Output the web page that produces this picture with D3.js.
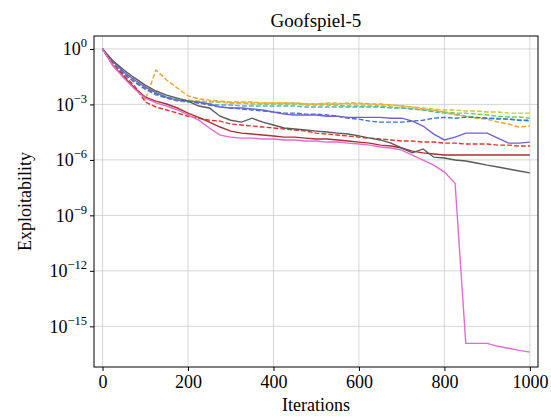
<!DOCTYPE html>
<html>
<head>
<meta charset="utf-8">
<script src="https://cdn.jsdelivr.net/npm/d3@7"></script>
<style>
    body { margin: 0; background: #fff; }
    svg text { font-family: "Liberation Serif", "DejaVu Serif", serif; fill: #000; }
</style>
</head>
<body>
<div id="chart"></div>
<script>
// iterations every 25 steps, 0..1000
var iterations = d3.range(0, 1001, 25);

var purpleSolid = [1, 2e-1, 5.6e-2, 2.1e-2, 8.7e-3, 4.2e-3, 2.5e-3, 1.7e-3, 1.5e-3, 1.35e-3, 1.05e-3, 7.2e-4, 6.4e-4, 6.4e-4, 5.7e-4, 5e-4, 3.9e-4, 3e-4, 2.7e-4, 2.7e-4, 2.7e-4, 2.3e-4, 2.3e-4, 2e-4, 2e-4, 2e-4, 2e-4, 1.8e-4, 1.8e-4, 1.25e-4, 6.8e-5, 2.5e-5, 1.2e-5, 1.7e-5, 2.8e-5, 2.8e-5, 2.8e-5, 1.5e-5, 8.1e-6, 8.1e-6, 9.2e-6];
var blueDashed = [1, 1.5e-1, 4.4e-2, 1.6e-2, 6.8e-3, 3.7e-3, 2.2e-3, 1.7e-3, 1.5e-3, 1.2e-3, 9.3e-4, 7.2e-4, 6.4e-4, 5.7e-4, 5e-4, 4.4e-4, 3.9e-4, 3.4e-4, 3.4e-4, 3e-4, 3e-4, 2.7e-4, 2.3e-4, 1.8e-4, 1.6e-4, 1.25e-4, 1.1e-4, 1.1e-4, 1.1e-4, 1.25e-4, 1.4e-4, 1.8e-4, 2e-4, 1.8e-4, 2e-4, 2e-4, 1.8e-4, 1.6e-4, 1.6e-4, 1.4e-4, 1.4e-4];
var greenDashed = [1, 1.75e-1, 5.6e-2, 2.1e-2, 8.7e-3, 4.2e-3, 2.5e-3, 2e-3, 1.7e-3, 1.5e-3, 1.35e-3, 1.35e-3, 1.2e-3, 1.2e-3, 1.05e-3, 1.05e-3, 1.05e-3, 1.05e-3, 1.05e-3, 9.3e-4, 9.3e-4, 9.3e-4, 9.3e-4, 8.2e-4, 8.2e-4, 8.2e-4, 8.2e-4, 7.2e-4, 6.4e-4, 5.7e-4, 5e-4, 4.4e-4, 3.9e-4, 3.4e-4, 3.4e-4, 3e-4, 2.7e-4, 2.3e-4, 2.1e-4, 2.1e-4, 1.8e-4];
var oliveDashed = [1, 1.75e-1, 5e-2, 1.85e-2, 7.7e-3, 3.7e-3, 2.2e-3, 1.7e-3, 1.7e-3, 1.5e-3, 1.5e-3, 1.35e-3, 1.2e-3, 1.2e-3, 1.2e-3, 1.2e-3, 1.2e-3, 1.2e-3, 1.2e-3, 1.05e-3, 1.05e-3, 1.2e-3, 1.2e-3, 1.05e-3, 1.05e-3, 1.05e-3, 9.3e-4, 9.3e-4, 8.2e-4, 7.2e-4, 6.4e-4, 5.7e-4, 5e-4, 5e-4, 4.4e-4, 4.4e-4, 3.9e-4, 3.9e-4, 3.4e-4, 3.4e-4, 3.4e-4];
var tealDashed = [1, 1.5e-1, 4.4e-2, 1.6e-2, 6.8e-3, 3.2e-3, 2.2e-3, 1.5e-3, 1.35e-3, 1.2e-3, 1.05e-3, 9.3e-4, 9.3e-4, 8.2e-4, 8.2e-4, 8.2e-4, 8.2e-4, 8.2e-4, 8.2e-4, 7.2e-4, 7.2e-4, 7.2e-4, 7.2e-4, 7.2e-4, 7.2e-4, 7.2e-4, 7.2e-4, 6.4e-4, 6.4e-4, 5.7e-4, 5e-4, 3.9e-4, 3.4e-4, 3e-4, 2.3e-4, 2e-4, 1.8e-4, 1.8e-4, 1.6e-4, 1.4e-4, 1.25e-4];
var orangeDashed = [1, 1.75e-1, 3.5e-2, 7.7e-3, 1.7e-3, 7.2e-2, 2.1e-2, 7.7e-3, 2.9e-3, 2e-3, 1.7e-3, 1.5e-3, 1.35e-3, 1.35e-3, 1.35e-3, 1.2e-3, 1.2e-3, 1.2e-3, 1.2e-3, 1.05e-3, 1.05e-3, 1.05e-3, 1.05e-3, 1.2e-3, 1.2e-3, 1.05e-3, 1.05e-3, 9.3e-4, 8.2e-4, 7.2e-4, 5.7e-4, 5e-4, 3.9e-4, 2.7e-4, 2.3e-4, 1.8e-4, 1.6e-4, 1.1e-4, 8.7e-5, 6e-5, 6.8e-5];
var redDashed = [1, 1.35e-1, 3.5e-2, 1e-2, 1.35e-3, 7.2e-4, 5e-4, 3.4e-4, 2.3e-4, 1.8e-4, 1.4e-4, 1.25e-4, 8.7e-5, 7.7e-5, 6.8e-5, 6e-5, 5.3e-5, 4.7e-5, 4.1e-5, 3.6e-5, 2.8e-5, 2.5e-5, 2.2e-5, 1.95e-5, 1.7e-5, 1.5e-5, 1.35e-5, 1.2e-5, 1.05e-5, 1.05e-5, 9.2e-6, 9.2e-6, 8.1e-6, 8.1e-6, 7.2e-6, 7.2e-6, 7.2e-6, 6.3e-6, 6.3e-6, 5.6e-6, 5.6e-6];
var brownSolid = [1, 1.2e-1, 3e-2, 7.7e-3, 2.5e-3, 1.5e-3, 1.05e-3, 6.4e-4, 3.4e-4, 2e-4, 1.1e-4, 6e-5, 3.6e-5, 2.8e-5, 2.5e-5, 2.2e-5, 1.95e-5, 1.7e-5, 1.7e-5, 1.5e-5, 1.35e-5, 1.35e-5, 1.2e-5, 1.05e-5, 9.2e-6, 8.1e-6, 6.3e-6, 5.6e-6, 4.4e-6, 3e-6, 2.4e-6, 2.1e-6, 1.85e-6, 1.85e-6, 1.85e-6, 1.85e-6, 1.85e-6, 1.85e-6, 1.85e-6, 1.85e-6, 1.85e-6];
var pinkSolid = [1, 1.2e-1, 2.7e-2, 6.8e-3, 2.2e-3, 1.2e-3, 8.2e-4, 5e-4, 2.7e-4, 1.4e-4, 5.3e-5, 2.2e-5, 1.7e-5, 1.5e-5, 1.5e-5, 1.35e-5, 1.35e-5, 1.2e-5, 1.2e-5, 1.05e-5, 1.05e-5, 9.2e-6, 9.2e-6, 8.1e-6, 7.2e-6, 6.3e-6, 5e-6, 4.4e-6, 3.4e-6, 1.8e-6, 9.8e-7, 5.2e-7, 2.2e-7, 5.5e-8, 1.2e-16, 1.2e-16, 1.2e-16, 8.3e-17, 6.5e-17, 5e-17, 4e-17];
var graySolid = [1, 2.2e-1, 7.2e-2, 2.7e-2, 1.1e-2, 5.3e-3, 3.2e-3, 2.2e-3, 1.5e-3, 8.2e-4, 6.4e-4, 2.3e-4, 1.4e-4, 1.1e-4, 1.8e-4, 1.1e-4, 7.7e-5, 5.3e-5, 4.7e-5, 4.1e-5, 3.6e-5, 3.2e-5, 2.8e-5, 2.5e-5, 2e-5, 1.5e-5, 1.2e-5, 8.1e-6, 4.4e-6, 2.4e-6, 3.9e-6, 1.4e-6, 1.26e-6, 9.8e-7, 8.7e-7, 6.8e-7, 5.2e-7, 4.1e-7, 3.2e-7, 2.5e-7, 2e-7];

var xTicks = [0, 200, 400, 600, 800, 1000];
var yTicks = [1, 1e-3, 1e-6, 1e-9, 1e-12, 1e-15];

var series = [
    { values: greenDashed, color: '#72cf55', dash: true },
    { values: oliveDashed, color: '#cdc43c', dash: true },
    { values: tealDashed, color: '#4fb5b5', dash: true },
    { values: orangeDashed, color: '#f6a425', dash: true },
    { values: blueDashed, color: '#3f6fd3', dash: true },
    { values: purpleSolid, color: '#7060d8', dash: false },
    { values: redDashed, color: '#e0352d', dash: true },
    { values: brownSolid, color: '#a83232', dash: false },
    { values: graySolid, color: '#5a5a5a', dash: false },
    { values: pinkSolid, color: '#e26ad6', dash: false }
];

var width = 551, height = 418;
var margin = { top: 36, right: 13, bottom: 51, left: 94 };
var innerW = width - margin.left - margin.right;
var innerH = height - margin.top - margin.bottom;

var svg = d3.select('#chart').append('svg')
    .attr('width', width)
    .attr('height', height);

var xScale = d3.scaleLinear().domain([-20, 1019]).range([0, innerW]);
var yScale = d3.scaleLog().domain([Math.pow(10, -17.2), Math.pow(10, 0.7)]).range([innerH, 0]);

var g = svg.append('g').attr('transform', `translate(${margin.left}, ${margin.top})`);

// grid
g.append('g').attr('class', 'grid')
    .selectAll('line.gx').data(xTicks).enter().append('line')
    .attr('x1', function (d) { return xScale(d); })
    .attr('x2', function (d) { return xScale(d); })
    .attr('y1', 0).attr('y2', innerH)
    .attr('stroke', '#cccccc').attr('stroke-width', 0.8);
g.select('.grid')
    .selectAll('line.gy').data(yTicks).enter().append('line')
    .attr('x1', 0).attr('x2', innerW)
    .attr('y1', function (d) { return yScale(d); })
    .attr('y2', function (d) { return yScale(d); })
    .attr('stroke', '#cccccc').attr('stroke-width', 0.8);

svg.append('defs').append('clipPath').attr('id', 'plotclip')
    .append('rect').attr('width', innerW).attr('height', innerH);

var line = d3.line()
    .x(function (d, i) { return xScale(iterations[i]); })
    .y(function (d) { return yScale(d); });

g.append('g').attr('clip-path', 'url(#plotclip)')
    .selectAll('path').data(series).enter().append('path')
    .attr('d', function (d) { return line(d.values); })
    .attr('fill', 'none')
    .attr('stroke', function (d) { return d.color; })
    .attr('stroke-width', 1.4)
    .attr('stroke-dasharray', function (d) { return d.dash ? '4.8,2.1' : null; });

// axes
var xAxis = d3.axisBottom(xScale).tickValues(xTicks).tickSize(4).tickPadding(4).tickFormat(d3.format('d'));
var xg = g.append('g').attr('transform', `translate(0, ${innerH})`).call(xAxis);
xg.select('.domain').remove();
xg.selectAll('text').style('font-size', '18px').style('font-family', '"Liberation Serif", serif').attr('fill', '#000');

var yAxis = d3.axisLeft(yScale).tickValues(yTicks).tickSize(4).tickFormat('');
var yg = g.append('g').call(yAxis);
yg.select('.domain').remove();

yg.selectAll('.tick').each(function (d) {
    var exp = Math.round(Math.log10(d));
    var t = d3.select(this).append('text')
        .attr('x', -7).attr('y', 6)
        .attr('text-anchor', 'end')
        .style('font-size', '18px');
    t.append('tspan').text('10');
    t.append('tspan').attr('dy', -8).style('font-size', '12.5px')
        .text(exp === 0 ? '0' : '\u2212' + Math.abs(exp));
});

// box
g.append('rect').attr('width', innerW).attr('height', innerH)
    .attr('fill', 'none').attr('stroke', '#000').attr('stroke-width', 1);

// labels
svg.append('text').attr('x', margin.left + innerW / 2).attr('y', 27)
    .attr('text-anchor', 'middle').style('font-size', '19px').text('Goofspiel-5');
svg.append('text').attr('x', margin.left + innerW / 2).attr('y', 411)
    .attr('text-anchor', 'middle').style('font-size', '18px').text('Iterations');
svg.append('text')
    .attr('transform', `translate(31, ${margin.top + innerH / 2}) rotate(-90)`)
    .attr('text-anchor', 'middle').style('font-size', '18px').text('Exploitability');
</script>
</body>
</html>
